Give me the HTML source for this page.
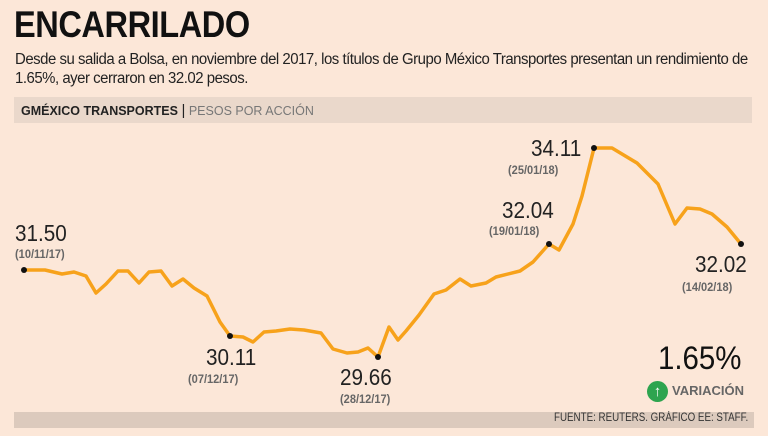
<!DOCTYPE html>
<html><head><meta charset="utf-8"><style>
body{margin:0;width:768px;height:436px;background:#fce7d8;overflow:hidden;font-family:"Liberation Sans",sans-serif;position:relative}
.a{position:absolute;white-space:nowrap}
.n{font-size:23px;color:#222;transform:scaleX(0.9);transform-origin:left}
.d{font-size:12px;font-weight:bold;color:#666;transform:scaleX(0.92);transform-origin:left}
</style></head><body>
<div class="a" style="left:14px;top:4px;font-size:37px;font-weight:bold;color:#111;letter-spacing:-0.5px;transform:scaleX(0.88);transform-origin:left">ENCARRILADO</div>
<div class="a" style="left:15px;top:50px;font-size:15.5px;color:#222;letter-spacing:-0.5px;line-height:19px;transform:scaleX(0.965);transform-origin:left">Desde su salida a Bolsa, en noviembre del 2017, los títulos de Grupo México Transportes presentan un rendimiento de<br>1.65%, ayer cerraron en 32.02 pesos.</div>
<div class="a" style="left:14px;top:97px;width:738px;height:26px;background:#ead8cb"></div>
<div class="a" style="left:21px;top:102px;font-size:12.5px;font-weight:bold;color:#222">GMÉXICO TRANSPORTES <span style="font-weight:normal;font-size:15px">|</span> <span style="font-weight:normal;color:#777;font-size:12.5px">PESOS POR ACCIÓN</span></div>
<svg class="a" style="left:0;top:0" width="768" height="436">
<polyline fill="none" stroke="#f7a21b" stroke-width="3.5" stroke-linejoin="round" points="24,270 45,270 62,274 74,272 86,276 96,293 106,284 118,271 128,271 139,283 149,272 161,271 172,286 183,279 194,288 207,296 220,322 230,336 243,337 253,342 264,332 276,331 290,329 304,330 321,333 333,349 347,353 358,352 368,348 378,357 389,327 398,340 406,331 419,315 434,294 446,290 460,279 471,286 486,283 496,277 520,271 533,262 549,244 559,250 573,224 582,196 594,148 612,148 637,163 658,184 675,224 687,208 700,209 712,214 727,227 741,244"/>
<g fill="#111"><circle cx="24" cy="270" r="3"/><circle cx="230" cy="336" r="3"/><circle cx="378" cy="357" r="3"/><circle cx="549" cy="244" r="3"/><circle cx="594" cy="148" r="3"/><circle cx="741" cy="244" r="3"/></g>
</svg>
<div class="a n" style="left:15px;top:220px">31.50</div>
<div class="a d" style="left:15px;top:247px">(10/11/17)</div>
<div class="a n" style="left:206px;top:344px">30.11</div>
<div class="a d" style="left:188px;top:372px">(07/12/17)</div>
<div class="a n" style="left:340px;top:364px">29.66</div>
<div class="a d" style="left:340px;top:392px">(28/12/17)</div>
<div class="a n" style="left:502px;top:197px">32.04</div>
<div class="a d" style="left:489px;top:224px">(19/01/18)</div>
<div class="a n" style="left:531px;top:135px">34.11</div>
<div class="a d" style="left:508px;top:163px">(25/01/18)</div>
<div class="a n" style="left:695px;top:251px">32.02</div>
<div class="a d" style="left:682px;top:280px">(14/02/18)</div>
<div class="a" style="left:658px;top:340px;font-size:32px;color:#111;transform:scaleX(0.92);transform-origin:left">1.65%</div>
<div class="a" style="left:647px;top:381px;width:21px;height:21px;border-radius:50%;background:#2ea44f;color:#fff;font-size:15px;font-weight:bold;text-align:center;line-height:21px">↑</div>
<div class="a" style="left:672px;top:383px;font-size:13px;font-weight:bold;color:#666">VARIACIÓN</div>
<div class="a" style="left:14px;top:412px;width:740px;height:16px;background:#dccabd"></div>
<div class="a" style="left:554px;top:412px;font-size:11.5px;color:#333;transform:scaleX(0.85);transform-origin:left">FUENTE: REUTERS. GRÁFICO EE: STAFF.</div>
</body></html>
